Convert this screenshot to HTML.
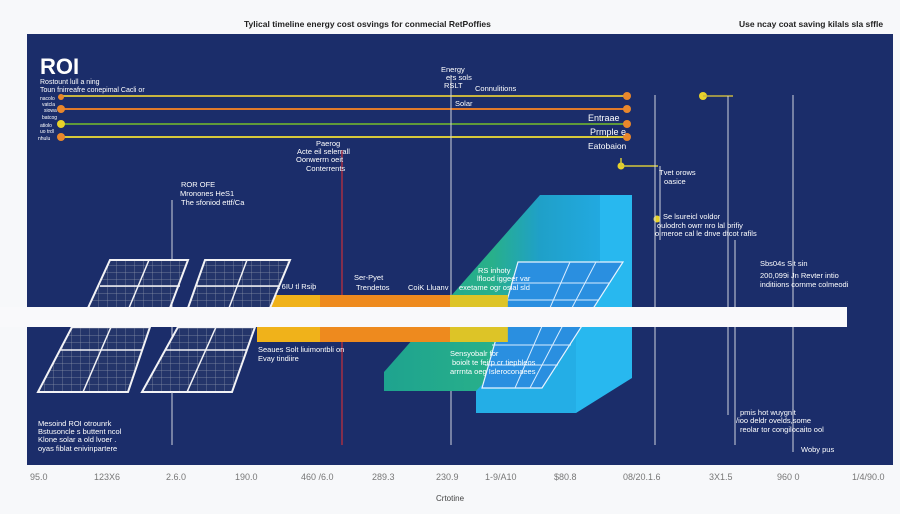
<!DOCTYPE html>
<html><head><meta charset="utf-8"><style>
html,body{margin:0;padding:0;background:#f7f8fa;}
svg{display:block;font-family:"Liberation Sans",sans-serif;}
</style></head><body>
<svg width="900" height="514" viewBox="0 0 900 514" xmlns="http://www.w3.org/2000/svg">
<defs>
<pattern id="cell" width="9" height="7" patternUnits="userSpaceOnUse"><rect width="9" height="7" fill="#24356a"/><path d="M9 0V7M0 7H9" stroke="#8a93a8" stroke-width="0.7"/></pattern>
<linearGradient id="teal" x1="0" y1="0" x2="1" y2="0"><stop offset="0" stop-color="#1ea38f"/><stop offset="0.5" stop-color="#28b08a"/><stop offset="0.72" stop-color="#1fa0c8"/><stop offset="1" stop-color="#22a9e0"/></linearGradient>
</defs>
<rect width="900" height="514" fill="#f7f8fa"/>
<text x="244" y="27" font-size="8.5" font-weight="bold" fill="#222">Tylical timeline energy cost osvings for conmecial RetPoffies</text>
<text x="739" y="27" font-size="8.5" font-weight="bold" fill="#222">Use ncay coat saving kilals sla sffle</text>
<rect x="27" y="34" width="866" height="431" fill="#1b2d6a"/>
<line x1="62" y1="96" x2="627" y2="96" stroke="#c8b540" stroke-width="2"/>
<line x1="62" y1="109" x2="627" y2="109" stroke="#e07a2a" stroke-width="2"/>
<line x1="62" y1="124" x2="627" y2="124" stroke="#5f9a3a" stroke-width="2"/>
<line x1="62" y1="137" x2="627" y2="137" stroke="#d6c83a" stroke-width="2"/>
<g fill="#e8872c"><circle cx="61" cy="97" r="3"/><circle cx="61" cy="109" r="4"/><circle cx="61" cy="137" r="4"/>
<circle cx="627" cy="96" r="4"/><circle cx="627" cy="109" r="4"/><circle cx="627" cy="124" r="4"/><circle cx="627" cy="137" r="4"/></g>
<circle cx="61" cy="124" r="4" fill="#e8d22a"/>
<circle cx="703" cy="96" r="4" fill="#e8d22a"/><line x1="703" y1="96" x2="733" y2="96" stroke="#c8b540" stroke-width="1.5"/>
<circle cx="621" cy="166" r="3.5" fill="#e8d22a"/><path d="M621 158V166H658" stroke="#d6c83a" stroke-width="1.5" fill="none"/>
<circle cx="657" cy="219" r="3.5" fill="#e8d22a"/>
<g fill="#fff" font-size="5"><text x="40" y="100">nacolo</text><text x="42" y="106">vatcla</text><text x="44" y="112">siowa</text><text x="42" y="119">batcog</text><text x="40" y="127">atiolo</text><text x="40" y="133">uo trdl</text><text x="38" y="140">nhulu</text></g>
<text x="40" y="74" font-size="22" font-weight="bold" fill="#fff">ROI</text>
<text x="40" y="84" font-size="7" fill="#fff">Rostount lull a ning</text>
<text x="40" y="92" font-size="7" fill="#fff">Toun fnirreafre conepimal Cacli or</text>
<g stroke="#cfd3de" stroke-width="1"><line x1="172" y1="200" x2="172" y2="445"/><line x1="451" y1="75" x2="451" y2="445"/><line x1="655" y1="95" x2="655" y2="445"/><line x1="728" y1="96" x2="728" y2="415"/><line x1="793" y1="95" x2="793" y2="452"/><line x1="660" y1="166" x2="660" y2="240"/><line x1="735" y1="240" x2="735" y2="445"/></g>
<line x1="342" y1="150" x2="342" y2="445" stroke="#c8303a" stroke-width="1.2"/>
<g fill="#fff" font-size="7.5">
<text x="441" y="72">Energy</text><text x="446" y="80">ers sols</text><text x="444" y="88">RSLT</text><text x="475" y="91">Connulitions</text><text x="455" y="106">Solar</text>
<text x="588" y="121" font-size="9">Entraae</text><text x="590" y="135" font-size="9">Prmple e</text><text x="588" y="149" font-size="8.5">Eatobaion</text>
<text x="316" y="146">Paerog</text><text x="297" y="154">Acte eil selerrall</text><text x="296" y="162">Oonwerrn oeit</text><text x="306" y="171">Conterrents</text>
<text x="181" y="187">ROR OFE</text><text x="180" y="196">Mronones HeS1</text><text x="181" y="205">The sfoniod ettf/Ca</text>
<text x="659" y="175">Tvet orows</text><text x="664" y="184">oasice</text>
<text x="663" y="219">Se lsureicl voldor</text><text x="657" y="228">oulodrch owrr nro lal brifiy</text><text x="655" y="236">o meroe cal le dnve dtcot rafils</text>
<text x="760" y="266">Sbs04s Sit sin</text><text x="760" y="278">200,099i Jn Revter intio</text><text x="760" y="287">inditiions cornme colmeodi</text>
<text x="275" y="289">A 6IU tl Rsiþ</text><text x="354" y="280">Ser-Pyet</text><text x="356" y="290">Trendetos</text><text x="408" y="290">CoiK Lluanv</text>
<text x="258" y="352">Seaues Solt liuimontbli on</text><text x="258" y="361">Evay tindiire</text>
</g>
<!-- 3D blocks -->
<rect x="476" y="300" width="100" height="113" fill="#24aee6"/>
<polygon points="384,372 540,195 600,195 600,260 476,391 384,391" fill="url(#teal)"/>
<polygon points="600,195 632,195 632,378 576,413 576,300 600,260" fill="#28b8ef"/>
<polygon points="518,262 623,262 542,388 482,388" fill="#2a8fe0" stroke="#e8f4ff" stroke-width="1.2"/>
<path d="M511 283H610M503 300H598M492 345H571M485 365H558M570 262L515 388M596 262L530 388" stroke="#d8ecff" stroke-width="1"/>
<g fill="#fff" font-size="7.5">
<text x="478" y="273">RS inhoty</text><text x="477" y="281">lflood iggeer var</text><text x="459" y="290">exetame ogr osial sld</text>
<text x="450" y="356">Sensyobalr for</text><text x="452" y="365">boiolt te  feirp cr tiepbleos</text><text x="450" y="374">arrrnta oeg Isleroconaees</text>
<text x="740" y="415">pmis hot wuygnit</text><text x="736" y="423">/ioo deldr ovelds,some</text><text x="740" y="432">reolar tor congilocaito ool</text>
<text x="801" y="452">Woby pus</text>
<text x="38" y="426">Mesoind ROI otrounrk</text><text x="38" y="434">Bstusoncle s buttent ncol</text><text x="38" y="442">Klone solar a old lvoer .</text><text x="38" y="451">oyas fiblat enivinpartere</text>
</g>
<rect x="257" y="295" width="250" height="47" fill="#f0b21a"/>
<rect x="320" y="295" width="130" height="47" fill="#ee8a1e"/>
<rect x="450" y="295" width="58" height="47" fill="#d9c72a" opacity="0.85"/>
<g stroke="#f2f2f5" stroke-width="2" fill="url(#cell)">
<polygon points="110,260 188,260 170,308 88,308"/><polygon points="205,260 290,260 270,308 188,308"/>
<polygon points="72,327 150,327 128,392 38,392"/><polygon points="178,327 255,327 232,392 142,392"/>
</g>
<g stroke="#f2f2f5" stroke-width="1.5"><line x1="149" y1="260" x2="129" y2="308"/><line x1="247" y1="260" x2="229" y2="308"/><line x1="100" y1="286" x2="180" y2="286"/><line x1="197" y1="286" x2="280" y2="286"/>
<line x1="111" y1="327" x2="83" y2="392"/><line x1="216" y1="327" x2="187" y2="392"/><line x1="60" y1="350" x2="142" y2="350"/><line x1="166" y1="350" x2="247" y2="350"/></g>
<line x1="172" y1="392" x2="172" y2="445" stroke="#cfd3de"/>
<rect x="0" y="307" width="847" height="20" fill="#f9f9fb"/>
<line x1="27" y1="464" x2="893" y2="464" stroke="#1b2d6a" stroke-width="2"/>
<g fill="#777" font-size="9">
<text x="30" y="480">95.0</text><text x="94" y="480">123X6</text><text x="166" y="480">2.6.0</text><text x="235" y="480">190.0</text><text x="301" y="480">460 /6.0</text><text x="372" y="480">289.3</text><text x="436" y="480">230.9</text><text x="485" y="480">1-9/A10</text><text x="554" y="480">$80.8</text><text x="623" y="480">08/20.1.6</text><text x="709" y="480">3X1.5</text><text x="777" y="480">960 0</text><text x="852" y="480">1/4/90.0</text>
</g>
<text x="436" y="501" font-size="8" fill="#444">Crtotine</text>
</svg>
</body></html>
